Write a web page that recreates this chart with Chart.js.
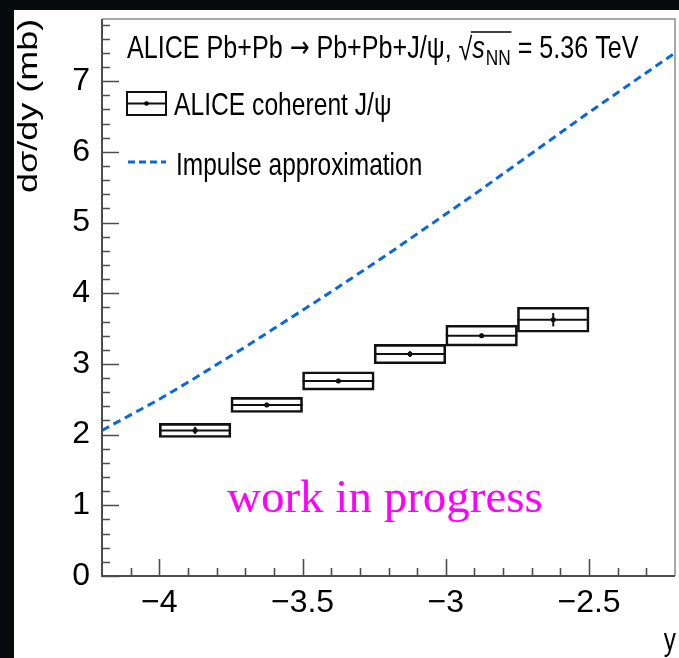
<!DOCTYPE html>
<html><head><meta charset="utf-8">
<script src="https://cdn.jsdelivr.net/npm/chart.js@4.4.1/dist/chart.umd.min.js"></script>
<style>html,body{margin:0;padding:0;background:#fff;overflow:hidden;} canvas{display:block;}</style>
</head><body>
<canvas id="c" width="679" height="658"></canvas>
<script>
// ---- data ----
const binLow      = [-4.0, -3.75, -3.5, -3.25, -3.0, -2.75];
const binHigh     = [-3.75, -3.5, -3.25, -3.0, -2.75, -2.5];
const rapidity    = [-3.875, -3.625, -3.375, -3.125, -2.875, -2.625];
const crossSection = [2.06, 2.42, 2.76, 3.14, 3.40, 3.625];
const systErr     = [0.10, 0.107, 0.13, 0.137, 0.147, 0.177];
const statErr     = [0.05, 0.03, 0.03, 0.04, 0.03, 0.095];
const iaRapidity  = [-4.2, -4.1, -4.0, -3.9, -3.8, -3.7, -3.6, -3.5, -3.4, -3.3, -3.2, -3.1, -3.0, -2.9, -2.8, -2.7, -2.6, -2.5, -2.4, -2.3, -2.2];
const iaCrossSection = [2.06, 2.28, 2.50, 2.74, 2.99, 3.24, 3.50, 3.76, 4.02, 4.29, 4.56, 4.84, 5.12, 5.40, 5.69, 5.98, 6.27, 6.56, 6.84, 7.12, 7.40];
const xTicks = [-4, -3.5, -3, -2.5];
const yTicks = [0, 1, 2, 3, 4, 5, 6, 7];

const SANS = '"Liberation Sans", Arial, Helvetica, sans-serif';
const SERIF = '"Liberation Serif", "Times New Roman", serif';
const BLUE = '#0b69d6';
const AXIS = '#4d4d4d';

function fmt(v) { return (v < 0 ? '\u2212' : '') + String(Math.abs(v)); }

const rootStyle = {
  id: 'rootStyle',
  beforeDraw(chart) {
    const ctx = chart.ctx;
    ctx.save();
    ctx.fillStyle = '#ffffff';
    ctx.fillRect(0, 0, chart.width, chart.height);
    ctx.restore();
  },
  afterDatasetsDraw(chart) {
    const ctx = chart.ctx, xs = chart.scales.x, ys = chart.scales.y;
    ctx.save();
    ctx.strokeStyle = '#111';
    ctx.lineWidth = 2;
    for (let i = 0; i < crossSection.length; i++) {
      const yv = ys.getPixelForValue(crossSection[i]);
      ctx.beginPath();
      ctx.moveTo(xs.getPixelForValue(binLow[i]), yv);
      ctx.lineTo(xs.getPixelForValue(binHigh[i]), yv);
      ctx.stroke();
      const xc = xs.getPixelForValue(rapidity[i]);
      ctx.beginPath();
      ctx.moveTo(xc, ys.getPixelForValue(crossSection[i] - statErr[i]));
      ctx.lineTo(xc, ys.getPixelForValue(crossSection[i] + statErr[i]));
      ctx.stroke();
    }
    ctx.restore();
  },
  afterDraw(chart) {
    const ctx = chart.ctx, a = chart.chartArea, xs = chart.scales.x, ys = chart.scales.y;
    ctx.save();
    // outer dark border of the photograph
    ctx.fillStyle = '#060b0d';
    ctx.fillRect(0, 0, chart.width, 10);
    ctx.fillRect(0, 0, 14, chart.height);
    // frame
    ctx.strokeStyle = '#8a8a8a';
    ctx.lineWidth = 1.5;
    ctx.beginPath();
    ctx.moveTo(a.left, a.top); ctx.lineTo(a.right, a.top); ctx.lineTo(a.right, a.bottom);
    ctx.stroke();
    ctx.strokeStyle = AXIS;
    ctx.lineWidth = 2;
    ctx.beginPath();
    ctx.moveTo(a.left, a.top); ctx.lineTo(a.left, a.bottom); ctx.lineTo(a.right, a.bottom);
    ctx.stroke();
    // ticks (inward)
    ctx.lineWidth = 1.6;
    ctx.beginPath();
    for (let k = 0; k <= 39; k++) {
      const v = k * 0.2;
      if (v > ys.max) break;
      const p = Math.round(ys.getPixelForValue(v)) + 0.5;
      const major = Math.abs(v - Math.round(v)) < 1e-6;
      ctx.moveTo(a.left, p); ctx.lineTo(a.left + (major ? 17 : 8), p);
    }
    for (let k = -42; k <= -22; k++) {
      const v = k / 10;
      const p = Math.round(xs.getPixelForValue(v)) + 0.5;
      const major = (k % 5 === 0);
      if (k === -42 || k === -22) continue;
      ctx.moveTo(p, a.bottom); ctx.lineTo(p, a.bottom - (major ? 17 : 8));
    }
    ctx.stroke();

    ctx.fillStyle = '#000';
    ctx.textBaseline = 'alphabetic';
    // y-axis title
    ctx.save();
    ctx.translate(37, 193);
    ctx.rotate(-Math.PI / 2);
    ctx.scale(1, 0.77);
    ctx.font = '36px ' + SANS;
    ctx.textAlign = 'left';
    ctx.fillText('d\u03C3/dy (mb)', 0, 0);
    ctx.restore();
    // x-axis title
    ctx.save();
    ctx.translate(676, 650);
    ctx.scale(0.76, 1);
    ctx.font = '32px ' + SANS;
    ctx.textAlign = 'right';
    ctx.fillText('y', 0, 0);
    ctx.restore();

    // legend row 1 (header)
    ctx.save();
    ctx.translate(127, 58);
    ctx.scale(0.785, 1);
    ctx.textAlign = 'left';
    let cx = 0;
    ctx.font = '32px ' + SANS;
    const t1a = 'ALICE Pb+Pb ';
    ctx.fillText(t1a, cx, 0); cx += ctx.measureText(t1a).width;
    ctx.font = '30px "DejaVu Sans", sans-serif';
    ctx.fillText('\u2192', cx, -1); cx += ctx.measureText('\u2192').width;
    ctx.font = '32px ' + SANS;
    const t1b = ' Pb+Pb+J/\u03C8, ';
    ctx.fillText(t1b, cx, 0); cx += ctx.measureText(t1b).width;
    ctx.fillText('\u221A', cx, 2); cx += ctx.measureText('\u221A').width;
    const ovStart = cx - 2;
    ctx.font = 'italic 32px ' + SANS;
    ctx.fillText('s', cx, 0); cx += ctx.measureText('s').width + 1;
    ctx.font = '22px ' + SANS;
    ctx.fillText('NN', cx, 7); cx += ctx.measureText('NN').width;
    ctx.strokeStyle = '#000'; ctx.lineWidth = 1.3;
    ctx.beginPath(); ctx.moveTo(ovStart, -26); ctx.lineTo(cx + 1, -26); ctx.stroke();
    ctx.font = '32px ' + SANS;
    ctx.fillText(' = 5.36 TeV', cx, 0);
    ctx.restore();

    // legend row 2 (box symbol)
    ctx.strokeStyle = '#111'; ctx.lineWidth = 2;
    ctx.strokeRect(127, 92, 39, 23);
    ctx.beginPath(); ctx.moveTo(127, 103.5); ctx.lineTo(166, 103.5); ctx.stroke();
    ctx.fillStyle = '#000';
    ctx.beginPath(); ctx.arc(146.5, 103.5, 2.3, 0, Math.PI * 2); ctx.fill();
    ctx.save();
    ctx.translate(174, 115);
    ctx.scale(0.77, 1);
    ctx.font = '32px ' + SANS;
    ctx.fillText('ALICE coherent J/\u03C8', 0, 0);
    ctx.restore();

    // legend row 3 (dashed line)
    ctx.strokeStyle = BLUE; ctx.lineWidth = 3; ctx.setLineDash([7, 4]);
    ctx.beginPath(); ctx.moveTo(128, 162); ctx.lineTo(166, 162); ctx.stroke();
    ctx.setLineDash([]);
    ctx.save();
    ctx.translate(176, 175);
    ctx.scale(0.765, 1);
    ctx.font = '32px ' + SANS;
    ctx.fillText('Impulse approximation', 0, 0);
    ctx.restore();

    // watermark
    ctx.fillStyle = '#ff00ff';
    ctx.font = '47px ' + SERIF;
    ctx.textAlign = 'left';
    ctx.fillText('work in progress', 227, 512);
    ctx.restore();
  }
};

new Chart(document.getElementById('c'), {
  type: 'bar',
  data: {
    datasets: [
      {
        type: 'scatter',
        label: 'ALICE coherent J/\u03C8',
        data: rapidity.map((x, i) => ({ x: x, y: crossSection[i] })),
        pointRadius: 2.5,
        pointBackgroundColor: '#000',
        pointBorderColor: '#000',
        pointBorderWidth: 0,
        order: 1
      },
      {
        type: 'bar',
        label: 'systematic',
        data: rapidity.map((x, i) => ({ x: x, y: [crossSection[i] - systErr[i], crossSection[i] + systErr[i]] })),
        backgroundColor: 'rgba(0,0,0,0)',
        borderColor: '#111',
        borderWidth: 2,
        borderSkipped: false,
        barPercentage: 1.0,
        categoryPercentage: 1.0,
        grouped: false,
        order: 2
      },
      {
        type: 'line',
        label: 'Impulse approximation',
        data: iaRapidity.map((x, i) => ({ x: x, y: iaCrossSection[i] })),
        borderColor: BLUE,
        borderWidth: 3,
        borderDash: [8, 5],
        pointRadius: 0,
        fill: false,
        tension: 0,
        order: 3
      }
    ]
  },
  options: {
    responsive: false,
    animation: false,
    devicePixelRatio: 1,
    layout: { padding: { top: 19, right: 2, left: 0, bottom: 0 } },
    plugins: { legend: { display: false }, tooltip: { enabled: false } },
    scales: {
      x: {
        type: 'linear', min: -4.2, max: -2.2, offset: false, position: 'bottom',
        grid: { display: false }, border: { display: false },
        ticks: { autoSkip: false, maxRotation: 0, padding: 0, color: '#000',
                 font: { family: SANS, size: 32 }, callback: (v) => fmt(v) },
        afterBuildTicks: (s) => { s.ticks = xTicks.map(v => ({ value: v })); },
        afterFit: (s) => { s.height = 82; s.paddingLeft = 0; s.paddingRight = 0; }
      },
      y: {
        type: 'linear', min: 0, max: 7.88, position: 'left',
        grid: { display: false }, border: { display: false },
        ticks: { autoSkip: false, padding: 4, color: '#000',
                 font: { family: SANS, size: 32 }, callback: (v) => fmt(v) },
        afterBuildTicks: (s) => { s.ticks = yTicks.map(v => ({ value: v })); },
        afterFit: (s) => { s.width = 102; s.paddingTop = 0; s.paddingBottom = 0; }
      }
    }
  },
  plugins: [rootStyle]
});
</script>
</body></html>
